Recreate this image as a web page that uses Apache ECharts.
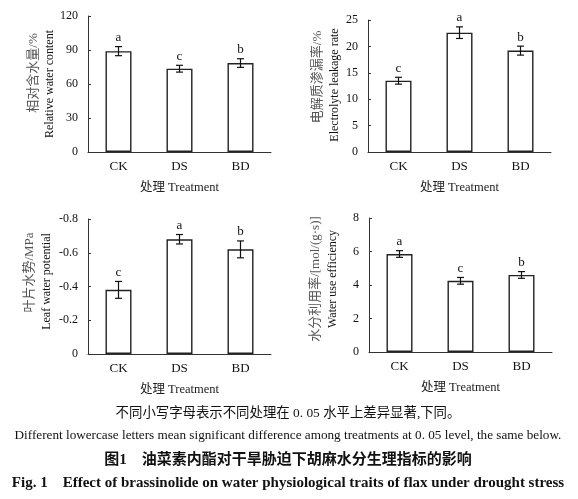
<!DOCTYPE html>
<html>
<head>
    <meta charset="UTF-8">
    <title>油菜素内酯对胡麻水分生理指标的影响</title>
    <script src="https://cdn.jsdelivr.net/npm/echarts@6.0.0/dist/echarts.min.js"></script>
    <style>
        html, body { margin: 0; padding: 0; background: #fff; }
        #main { width: 578px; height: 499px; }
    </style>
</head>
<body>
    <div id="main"></div>
    <script>
        var categories = ['CK', 'DS', 'BD'];

        // 相对含水量
        var rwcMean = [89, 73.5, 78.5];
        var rwcErr = [4, 3, 3.8];
        var rwcLetters = ['a', 'c', 'b'];

        // 电解质渗漏率
        var elMean = [13.5, 22.6, 19.2];
        var elErr = [0.65, 1.1, 0.85];
        var elLetters = ['c', 'a', 'b'];

        // 叶片水势
        var lwpMean = [-0.38, -0.68, -0.62];
        var lwpErr = [0.05, 0.028, 0.05];
        var lwpLetters = ['c', 'a', 'b'];

        // 水分利用率
        var wueMean = [5.85, 4.25, 4.6];
        var wueErr = [0.2, 0.2, 0.2];
        var wueLetters = ['a', 'c', 'b'];

        var FONT = "'Times New Roman', 'Liberation Serif', 'Noto Sans CJK SC', serif";
        var AX = '#333';

        var chart = echarts.init(document.getElementById('main'));

        function errItem(letters) {
            return function (params, api) {
                var i = api.value(0), m = api.value(1), e = api.value(2);
                var p1 = api.coord([i, m + e]);
                var p2 = api.coord([i, m - e]);
                var top = Math.min(p1[1], p2[1]);
                var x = p1[0], w = 3.5;
                var st = { stroke: '#111', lineWidth: 1.2 };
                return {
                    type: 'group',
                    children: [
                        { type: 'line', shape: { x1: x, y1: p1[1], x2: x, y2: p2[1] }, style: st },
                        { type: 'line', shape: { x1: x - w, y1: p1[1], x2: x + w, y2: p1[1] }, style: st },
                        { type: 'line', shape: { x1: x - w, y1: p2[1], x2: x + w, y2: p2[1] }, style: st },
                        { type: 'text', x: x, y: top - 9, style: {
                            text: letters[i], font: '13px ' + FONT, fill: '#111',
                            align: 'center', verticalAlign: 'middle' } }
                    ]
                };
            };
        }

        function xAxis(idx) {
            return {
                type: 'category', gridIndex: idx, data: categories,
                name: '处理 Treatment', nameLocation: 'middle', nameGap: 29,
                nameTextStyle: { fontFamily: FONT, fontSize: 12.5, color: '#222' },
                axisLine: { lineStyle: { color: AX, width: 1 } },
                axisTick: { inside: true, length: 3, lineStyle: { color: AX } },
                axisLabel: { fontFamily: FONT, fontSize: 13, color: '#111', margin: 8 }
            };
        }

        // cnShift / enShift: move each title line up along the axis (px)
        function yAxis(idx, min, max, interval, cn, en, gap, cnShift, enShift, inverse) {
            return {
                type: 'value', gridIndex: idx, min: min, max: max, interval: interval,
                inverse: !!inverse,
                name: '{cn|' + cn + '}\n{en|' + en + '}',
                nameLocation: 'middle', nameRotate: 90, nameGap: gap,
                nameTextStyle: {
                    rich: {
                        cn: { fontFamily: FONT, fontSize: 13, color: '#555', lineHeight: 17,
                              padding: [0, 0, 0, cnShift * 2] },
                        en: { fontFamily: FONT, fontSize: 12, color: '#111', lineHeight: 17,
                              padding: [0, 0, 0, enShift * 2] }
                    }
                },
                axisLine: { show: true, lineStyle: { color: AX, width: 1 } },
                axisTick: { show: true, inside: true, length: 3, lineStyle: { color: AX } },
                axisLabel: { fontFamily: FONT, fontSize: 12, color: '#111', margin: 10 },
                splitLine: { show: false }
            };
        }

        function barSeries(idx, means) {
            return {
                type: 'bar', xAxisIndex: idx, yAxisIndex: idx, data: means,
                barWidth: 26, silent: true,
                itemStyle: { color: '#fff', borderColor: '#222', borderWidth: 1.4 }
            };
        }

        function errSeries(idx, means, errs, letters) {
            return {
                type: 'custom', xAxisIndex: idx, yAxisIndex: idx, z: 5, silent: true,
                renderItem: errItem(letters),
                data: means.map(function (m, i) { return [i, m, errs[i]]; })
            };
        }

        function caption(text, y, font) {
            return {
                type: 'text', x: 288, y: y,
                style: { text: text, font: font, fill: '#111', align: 'center', verticalAlign: 'middle' }
            };
        }

        var option = {
            animation: false,
            backgroundColor: '#fff',
            grid: [
                { left: 88, top: 16, width: 183, height: 136 },
                { left: 368, top: 20, width: 183, height: 132 },
                { left: 88, top: 219, width: 183, height: 135 },
                { left: 369, top: 218, width: 183, height: 134 }
            ],
            xAxis: [xAxis(0), xAxis(1), xAxis(2), xAxis(3)],
            yAxis: [
                yAxis(0, 0, 120, 30, '相对含水量/%', 'Relative water content', 28, 11, 0),
                yAxis(1, 0, 25, 5, '电解质渗漏率/%', 'Electrolyte leakage rate', 25, 9, 1),
                yAxis(2, -0.8, 0, 0.2, '叶片水势/MPa', 'Leaf water potential', 33, 14, 5, true),
                yAxis(3, 0, 8, 2, '水分利用率/[mol/(g·s)]', 'Water use efficiency', 28, 6, 6)
            ],
            series: [
                barSeries(0, rwcMean), errSeries(0, rwcMean, rwcErr, rwcLetters),
                barSeries(1, elMean), errSeries(1, elMean, elErr, elLetters),
                barSeries(2, lwpMean), errSeries(2, lwpMean, lwpErr, lwpLetters),
                barSeries(3, wueMean), errSeries(3, wueMean, wueErr, wueLetters)
            ],
            graphic: [
                caption('不同小写字母表示不同处理在 0. 05 水平上差异显著,下同。', 413, '13.4px ' + FONT),
                caption('Different lowercase letters mean significant difference among treatments at 0. 05 level, the same below.', 436, '13.2px ' + FONT),
                caption('图1　油菜素内酯对干旱胁迫下胡麻水分生理指标的影响', 460, 'bold 15px ' + FONT),
                caption('Fig. 1    Effect of brassinolide on water physiological traits of flax under drought stress', 483, 'bold 15px ' + FONT)
            ]
        };

        chart.setOption(option);
    </script>
</body>
</html>
